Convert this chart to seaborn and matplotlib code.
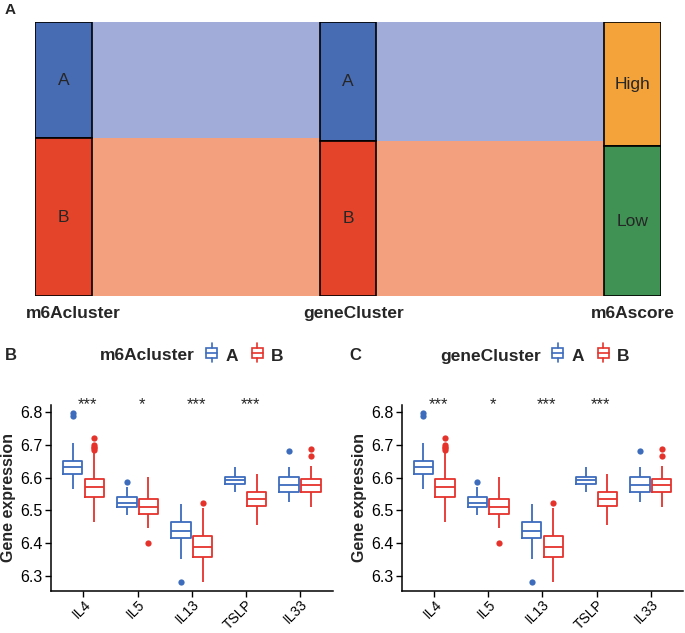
import numpy as np
import pandas as pd
import matplotlib
matplotlib.use("Agg")
import matplotlib.pyplot as plt
import seaborn as sns
from matplotlib.patches import Rectangle, Patch
from matplotlib.lines import Line2D
from matplotlib.legend_handler import HandlerBase

# ---- panel A: alluvial (fraction of samples in the upper stratum) ----
axis_names = ["m6Acluster", "geneCluster", "m6Ascore"]
upper_labels = ["A", "A", "High"]
lower_labels = ["B", "B", "Low"]
upper_frac = [0.424, 0.434, 0.452]

# ---- panels B/C: box statistics ----
genes = ["IL4", "IL5", "IL13", "TSLP", "IL33"]
sig = ["***", "*", "***", "***", ""]

a_lo = [6.567, 6.486, 6.353, 6.557, 6.525]
a_q1 = [6.611, 6.510, 6.417, 6.580, 6.555]
a_med = [6.632, 6.524, 6.437, 6.592, 6.578]
a_q3 = [6.651, 6.540, 6.465, 6.603, 6.601]
a_hi = [6.706, 6.573, 6.521, 6.633, 6.633]
a_out = [[6.787, 6.797], [6.588], [6.280], [], [6.682]]

b_lo = [6.466, 6.447, 6.280, 6.457, 6.511]
b_q1 = [6.541, 6.490, 6.359, 6.513, 6.557]
b_med = [6.571, 6.512, 6.387, 6.535, 6.578]
b_q3 = [6.597, 6.536, 6.423, 6.555, 6.597]
b_hi = [6.678, 6.602, 6.508, 6.610, 6.637]
b_out = [[6.685, 6.690, 6.695, 6.700, 6.720], [6.400], [6.523], [], [6.665, 6.688]]

BLUE = "#3d6cbd"
RED = "#e5332c"


def box_values(lo, q1, med, q3, hi, out, m=6):
    # sample of 4m+1 points whose quartiles/whiskers/outliers match the read stats
    low = sorted(v for v in out if v < med)
    high = sorted(v for v in out if v > med)
    left = low + [lo] + [q1] * (m - len(low))
    mid = [med] * (2 * m - 1)
    right = [q3] * (m - len(high)) + [hi] + high
    return left + mid + right


rows = []
for i, g in enumerate(genes):
    for v in box_values(a_lo[i], a_q1[i], a_med[i], a_q3[i], a_hi[i], a_out[i]):
        rows.append((g, "A", v))
    for v in box_values(b_lo[i], b_q1[i], b_med[i], b_q3[i], b_hi[i], b_out[i]):
        rows.append((g, "B", v))
df = pd.DataFrame(rows, columns=["gene", "group", "value"])

sns.set_style("ticks")
plt.rcParams["font.family"] = ["Liberation Sans", "DejaVu Sans"]

fig = plt.figure(figsize=(6.85, 6.33), dpi=100)


class BoxKey(HandlerBase):
    def create_artists(self, legend, orig, xd, yd, w, h, fs, trans):
        c = orig.get_edgecolor()
        cx = xd + w / 2
        bw = w * 0.8
        r = Rectangle((cx - bw / 2, yd + h * 0.15), bw, h * 0.7, fc="white",
                      ec=c, lw=1.2, transform=trans)
        md = Line2D([cx - bw / 2, cx + bw / 2], [yd + h / 2] * 2, color=c, lw=1.2, transform=trans)
        w1 = Line2D([cx, cx], [yd - h * 0.15, yd + h * 0.15], color=c, lw=1.2, transform=trans)
        w2 = Line2D([cx, cx], [yd + h * 0.85, yd + h * 1.15], color=c, lw=1.2, transform=trans)
        return [r, md, w1, w2]


# ---------------- panel A ----------------
axA = fig.add_axes([35 / 685, 1 - 296 / 633, 626 / 685, 273.7 / 633])
x = np.arange(len(axis_names))
bw = 0.2
split = [1 - f for f in upper_frac]
for i in range(len(x) - 1):
    xs = [x[i], x[i + 1]]
    axA.fill_between(xs, split[i], 1, color="#a1acd8", lw=0)
    axA.fill_between(xs, 0, split[i], color="#f2a07e", lw=0)
up_colors = ["#486cb4", "#486cb4", "#f4a33a"]
low_colors = ["#e4452a", "#e4452a", "#3f9254"]
axA.bar(x, upper_frac, bottom=split, width=bw, color=up_colors, edgecolor="black", lw=1.2, zorder=3)
axA.bar(x, split, bottom=0, width=bw, color=low_colors, edgecolor="black", lw=1.2, zorder=3)
name_shift = [0.035, 0.02, 0.0]
for i in range(len(x)):
    axA.text(x[i], split[i] + upper_frac[i] / 2, upper_labels[i], ha="center", va="center",
             fontsize=12.5, zorder=4)
    axA.text(x[i], split[i] / 2, lower_labels[i], ha="center", va="center", fontsize=12.5, zorder=4)
    axA.text(x[i] + name_shift[i], -0.065, axis_names[i], ha="center", va="center",
             fontsize=12.5, fontweight="bold")
axA.set_xlim(-bw / 2, x[-1] + bw / 2)
axA.set_ylim(0, 1)
axA.axis("off")
fig.text(5 / 685, 1 - 10 / 633, "A", fontsize=11, fontweight="bold", ha="left", va="center")

# ---------------- panels B & C ----------------
renderer = fig.canvas.get_renderer()
panels = [("B", "m6Acluster", 51, 5, 100), ("C", "geneCluster", 401.7, 349, 440)]
for letter, title, left_px, letter_px, title_px in panels:
    ax = fig.add_axes([left_px / 685, 1 - 591 / 633, 281.5 / 685, 186 / 633])
    sns.boxplot(data=df, x="gene", y="value", hue="group", hue_order=["A", "B"],
                order=genes, palette=[BLUE, RED], fill=False, width=0.8, gap=0.1,
                linewidth=1.3, fliersize=4.5, showcaps=False, legend=False, ax=ax)
    for ln in ax.lines:
        if ln.get_marker() not in (None, "None", ""):
            ln.set_marker("o")
            ln.set_markerfacecolor(ln.get_markeredgecolor())
            ln.set_markeredgewidth(0)
    ax.set_xlim(-0.6, 4.6)
    ax.set_ylim(6.254, 6.822)
    ax.set_yticks([6.3, 6.4, 6.5, 6.6, 6.7, 6.8])
    ax.set_xlabel("")
    ax.set_ylabel("Gene expression", fontsize=11.5, fontweight="bold", labelpad=3)
    sns.despine(ax=ax)
    for s in ["left", "bottom"]:
        ax.spines[s].set_linewidth(1.1)
        ax.spines[s].set_color("black")
    ax.tick_params(axis="y", length=4, width=1, color="black", labelsize=11.5,
                   labelcolor="black", pad=2)
    ax.tick_params(axis="x", length=4, width=1, color="black", labelsize=10,
                   labelcolor="black", pad=0.5)
    plt.setp(ax.get_xticklabels(), rotation=45, ha="right", rotation_mode="anchor")
    for i, s in enumerate(sig):
        if s:
            ax.text(i + 0.08, 6.822, s, ha="center", va="center", fontsize=12, clip_on=False)
    # legend row
    fig.text(letter_px / 685, 1 - 356 / 633, letter, fontsize=12, fontweight="bold",
             ha="left", va="center")
    t = fig.text(title_px / 685, 1 - 356 / 633, title, fontsize=12.5, fontweight="bold",
                 ha="left", va="center")
    x_end = t.get_window_extent(renderer).x1
    handles = [Patch(fc="white", ec=BLUE), Patch(fc="white", ec=RED)]
    fig.legend(handles, ["A", "B"], handler_map={Patch: BoxKey()}, ncol=2,
               loc="center left", bbox_to_anchor=((x_end + 10) / 685, 1 - 356 / 633),
               frameon=False, prop={"weight": "bold", "size": 12.5}, handlelength=0.8,
               handleheight=0.9, handletextpad=0.4, columnspacing=0.7, borderpad=0,
               borderaxespad=0)

fig.savefig("out.png", dpi=100)
